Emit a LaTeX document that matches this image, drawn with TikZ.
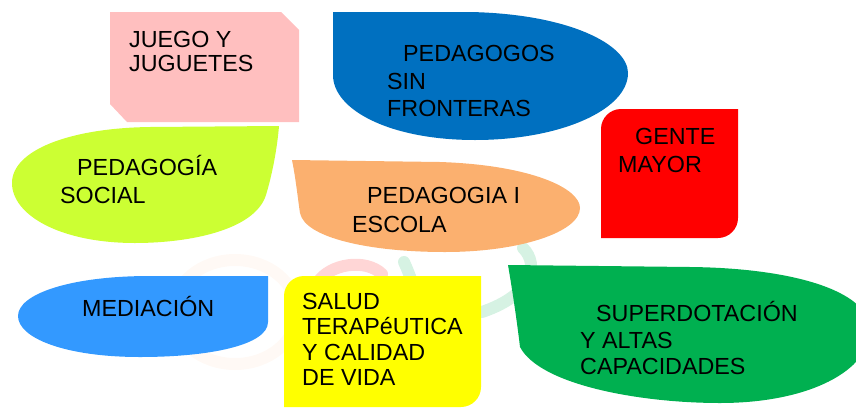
\documentclass[tikz,border=0pt]{standalone}
\usepackage{fontspec}
\setmainfont{Liberation Sans}
\definecolor{juego}{HTML}{FFBFBF}
\definecolor{frontera}{HTML}{0070C0}
\definecolor{social}{HTML}{CCFF33}
\definecolor{escola}{HTML}{FBB06F}
\definecolor{mayor}{HTML}{FF0000}
\definecolor{mediacion}{HTML}{3399FF}
\definecolor{salud}{HTML}{FFFF00}
\definecolor{altas}{HTML}{00B050}
\begin{document}
\begin{tikzpicture}[x=1pt,y=-1pt,
  txt/.style={anchor=base west,align=left,inner sep=0pt,font=\fontsize{23.3}{#1}\selectfont},
  txt/.default=26,
  swirl/.style={line width=12pt,line cap=round,opacity=0.16}]
\clip (0,0) rectangle (856,407);

\draw[swirl,escola,opacity=0.07] (235,312) ellipse [x radius=62,y radius=52];
\draw[swirl,mayor] (318,282) .. controls (330,264) and (365,258) .. (382,274);
\draw[swirl,altas] (404,262) .. controls (410,275) and (415,290) .. (418,302);
\draw[swirl,altas] (523,248) .. controls (540,265) and (532,295) .. (482,312);

\fill[juego] (110,12) -- (281,12) -- (299,30) -- (299,122) -- (127,122) -- (110,104) -- cycle;
\fill[frontera] (333,12) -- (470,12) .. controls (570,14) and (628,45) .. (628,73)
  .. controls (628,110) and (560,140) .. (475,140) .. controls (390,140) and (333,110) .. (333,75) -- cycle;
\fill[social] (279,126) .. controls (277,150) and (272,175) .. (266,195)
  .. controls (255,230) and (190,243) .. (135,243) .. controls (60,243) and (12,215) .. (12,183)
  .. controls (12,150) and (70,128) .. (150,127) -- cycle;
\fill[escola] (292,160) -- (440,162) .. controls (530,165) and (580,188) .. (580,208)
  .. controls (580,232) and (520,252) .. (445,252) .. controls (370,252) and (305,238) .. (300,213)
  .. controls (298,200) and (296,180) .. (292,160) -- cycle;
\fill[mayor] (601,238) -- (601,129) .. controls (601,118) and (610,109) .. (621,109) -- (738,109)
  -- (738,218) .. controls (738,229) and (729,238) .. (718,238) -- cycle;
\fill[mediacion] (268,276) -- (268,322) .. controls (268,345) and (210,357) .. (140,357)
  .. controls (65,357) and (18,338) .. (18,316) .. controls (18,294) and (70,276) .. (150,276) -- cycle;
\fill[salud] (284,407) -- (284,296) .. controls (284,285) and (293,276) .. (304,276) -- (481,276)
  -- (481,387) .. controls (481,398) and (472,407) .. (461,407) -- cycle;
\fill[altas] (508,265) .. controls (514,300) and (518,330) .. (520,347)
  .. controls (540,385) and (640,403) .. (720,403) .. controls (810,403) and (870,370) .. (870,330)
  .. controls (870,290) and (790,268) .. (690,267) -- cycle;

\node[txt=24.5] (juguetes) at (129,71.7) {JUEGO Y\\JUGUETES};
\node[txt=27.5] (fronteras) at (387,116.5) {\hspace*{16pt}PEDAGOGOS\\SIN\\FRONTERAS};
\node[txt=28] (social) at (60,203.5) {\hspace*{17pt}PEDAGOGÍA\\SOCIAL};
\node[txt=29] (escola) at (352,232.5) {\hspace*{15pt}PEDAGOGIA I\\ESCOLA};
\node[txt=28] (gente) at (618,172.7) {\hspace*{17pt}GENTE\\MAYOR};
\node[txt] (mediacion) at (82,316.7) {MEDIACIÓN};
\node[txt=25.3] (salud) at (302,385.5) {SALUD\\TERAPéUTICA\\Y CALIDAD\\DE VIDA};
\node[txt=26.5] (superdotacion) at (580,374.5) {\hspace*{16pt}SUPERDOTACIÓN\\Y ALTAS\\CAPACIDADES};
\end{tikzpicture}
\end{document}
